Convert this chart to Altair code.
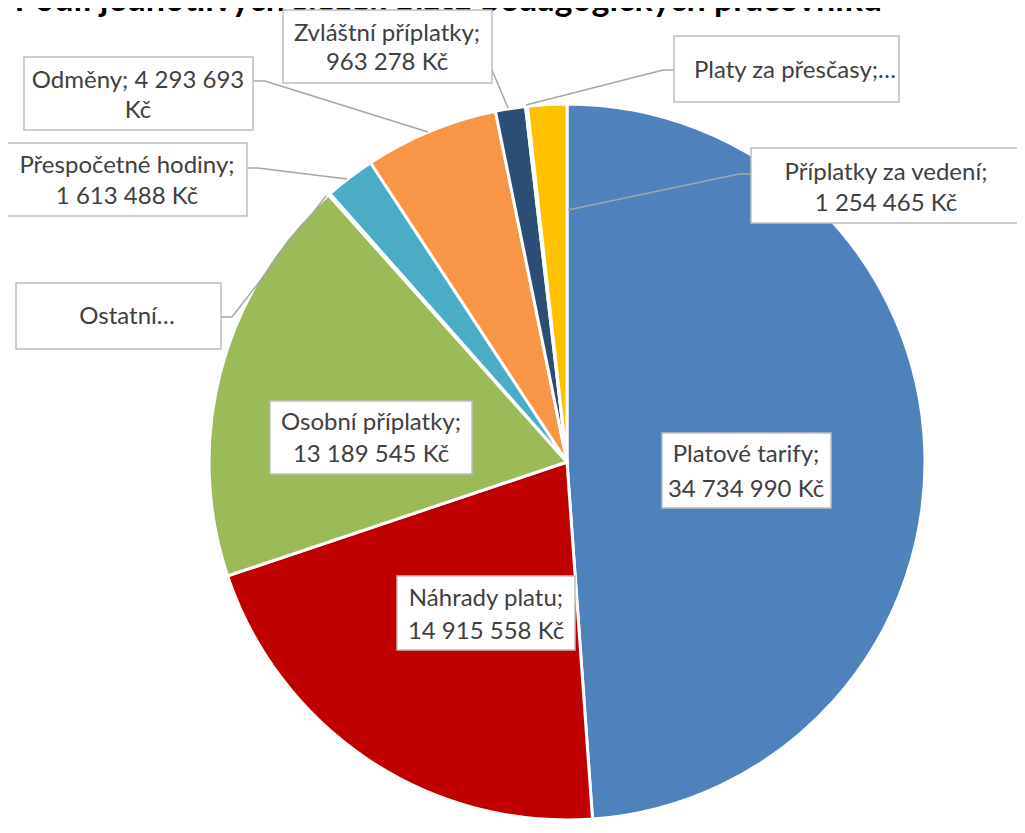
import altair as alt
import pandas as pd

# ---- data ----
categories = ["Platové tarify", "Náhrady platu", "Osobní příplatky", "Ostatní",
              "Přespočetné hodiny", "Odměny", "Zvláštní příplatky",
              "Platy za přesčasy", "Příplatky za vedení"]
values = [34734990, 14915558, 13189545, 60000, 1613488, 4293693, 963278, 60000, 1254465]
colors = ["#4F81BD", "#C00000", "#9BBB59", "#5F7530", "#4BACC6", "#F79646",
          "#2C4D75", "#772C2A", "#FFC000"]
title_text = "Podíl jednotlivých složek platu pedagogických pracovníků"

def fmt(v):
    return f"{v:,}".replace(",", " ") + " Kč"

# label text lines (as shown in the chart, some truncated)
label_lines = [
    ["Platové tarify;", fmt(values[0])],
    ["Náhrady platu;", fmt(values[1])],
    ["Osobní příplatky;", fmt(values[2])],
    ["Ostatní…"],
    ["Přespočetné hodiny;", fmt(values[4])],
    ["Odměny; " + f"{values[5]:,}".replace(",", " "), "Kč"],
    ["Zvláštní příplatky;", fmt(values[6])],
    ["Platy za přesčasy;…"],
    ["Příplatky za vedení;", fmt(values[8])],
]

# ---- layout (page pixel styles) ----
OFF = 8
CX, CY, R = 567 - OFF, 462 - OFF, 358
boxes = [  # x1, y1, x2, y2, text center x, line ys
    (662, 433, 831, 508, 746, [455, 490]),
    (397, 576, 575, 650, 486, [599, 632]),
    (270, 401, 472, 474, 371, [423, 455]),
    (16, 283, 221, 349, 127, [317]),
    (7, 143, 247, 216, 127, [166, 197]),
    (24, 57, 253, 130, 138, [81, 111]),
    (283, 10, 492, 83, 387, [34, 63]),
    (674, 36, 899, 102, 795, [71]),
    (751, 148, 1021, 223, 886, [173, 204]),
]
leaders = {
    3: [(221, 317), (232, 317), (326, 196)],
    4: [(247, 168), (258, 168), (347, 179)],
    5: [(253, 81), (265, 81), (428, 132)],
    6: [(492, 70), (508, 108)],
    7: [(674, 70), (663, 70), (526, 105)],
    8: [(751, 174), (739, 174), (568, 210)],
}

pie_df = pd.DataFrame({"cat": categories, "value": values, "idx": list(range(len(values)))})

box_rows, text_rows, line_rows = [], [], []
for i, (x1, y1, x2, y2, tx, ys) in enumerate(boxes):
    box_rows.append({"x1": x1 - OFF, "y1": y1 - OFF, "x2": x2 - OFF, "y2": y2 - OFF})
    for line, yy in zip(label_lines[i], ys):
        text_rows.append({"t": line, "x": tx - OFF, "y": yy - OFF})
for k, pts in leaders.items():
    for j, (px, py) in enumerate(pts):
        line_rows.append({"id": k, "o": j, "x": px - OFF, "y": py - OFF})

box_df = pd.DataFrame(box_rows)
text_df = pd.DataFrame(text_rows)
line_df = pd.DataFrame(line_rows)

title = alt.Chart(pd.DataFrame({"t": [title_text]})).mark_text(
    font="Lato", fontSize=34, fontWeight="bold", color="#000000",
    align="right", baseline="alphabetic").encode(
    x=alt.value(882 - OFF), y=alt.value(3), text="t:N")

pie = alt.Chart(pie_df).mark_arc(outerRadius=R, stroke="white", strokeWidth=3).encode(
    theta=alt.Theta("value:Q", stack=True),
    color=alt.Color("cat:N", scale=alt.Scale(domain=categories, range=colors), legend=None),
    order=alt.Order("idx:Q"),
    x=alt.value(CX), y=alt.value(CY),
)

leader = alt.Chart(line_df).mark_line(color="#A6A6A6", strokeWidth=1.5).encode(
    x=alt.X("x:Q", scale=None, axis=None),
    y=alt.Y("y:Q", scale=None, axis=None),
    detail="id:N",
    order="o:Q",
)

rects = alt.Chart(box_df).mark_rect(fill="white", stroke="#BFBFBF", strokeWidth=1.5).encode(
    x=alt.X("x1:Q", scale=None, axis=None), x2="x2:Q",
    y=alt.Y("y1:Q", scale=None, axis=None), y2="y2:Q",
)

texts = alt.Chart(text_df).mark_text(font="Lato", fontSize=24, color="#404040",
                                      align="center", baseline="middle").encode(
    x=alt.X("x:Q", scale=None, axis=None),
    y=alt.Y("y:Q", scale=None, axis=None),
    text="t:N",
)

chart = alt.layer(title, pie, leader, rects, texts).properties(
    width=1025 - 2 * OFF, height=833 - 2 * OFF,
    autosize=alt.AutoSizeParams(type="none"), padding=0,
).configure_view(stroke=None)

chart.save("out.html", embed_options={"renderer": "svg", "actions": False})
